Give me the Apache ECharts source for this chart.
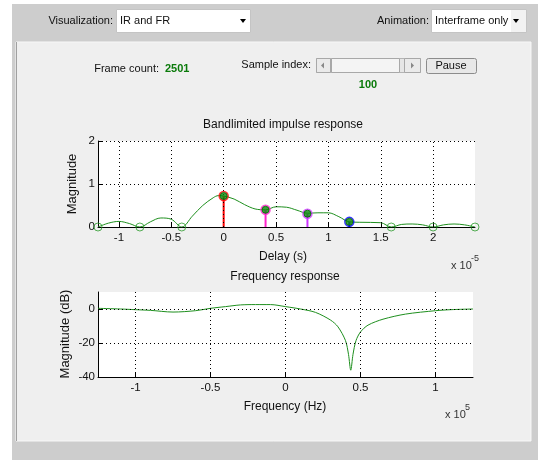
<!DOCTYPE html>
<html><head><meta charset="utf-8">
<script src="https://cdn.jsdelivr.net/npm/echarts@6/dist/echarts.min.js"></script>
<style>html,body{margin:0;padding:0;background:#fff;}#c{width:538px;height:461px;}</style>
</head><body><div id="c"></div>
<script>
// Impulse response curve (x in units of 1e-5 s)
const irX = [-1.2,-1.1,-1.0,-0.9,-0.8,-0.7,-0.6,-0.5,-0.4,-0.3,-0.2,-0.1,-0.05,0,0.1,0.2,0.3,0.4,0.5,0.6,0.7,0.8,0.9,1.0,1.1,1.2,1.3,1.5,1.6,1.7,1.8,1.9,2.0,2.1,2.2,2.3,2.4];
const irY = [0,0.09,0.13,0.08,0,0.12,0.21,0.18,0,0.25,0.5,0.68,0.73,0.72,0.65,0.52,0.42,0.40,0.47,0.46,0.39,0.32,0.33,0.33,0.24,0.12,0.11,0.10,0,0.06,0.07,0.05,0,0.05,0.07,0.05,0];
const stemX = [0, 0.4, 0.8, 1.2];
const stemY = [0.72, 0.40, 0.31, 0.12];
const zeroX = [-1.2, -0.8, -0.4, 1.6, 2.0, 2.4];
const irTicks = [-1, -0.5, 0, 0.5, 1, 1.5, 2];
const irYTicks = [0, 1, 2];
// Frequency response (x in units of 1e5 Hz, y in dB)
const frX = [-1.25,-1.1,-1.0,-0.9,-0.75,-0.6,-0.5,-0.4,-0.3,-0.2,-0.1,0,0.1,0.2,0.3,0.35,0.4,0.42,0.435,0.45,0.47,0.5,0.55,0.65,0.8,1.0,1.1,1.25];
const frY = [0.4,0,-0.4,-0.8,-1.8,-1.0,0.4,1.4,2.4,2.6,2.6,1.4,0,-2,-6.5,-10.5,-18.6,-26.7,-36,-26.7,-18.6,-13.5,-9.5,-6,-3,-1,-0.4,0];
const frTicks = [-1, -0.5, 0, 0.5, 1];
const frYTicks = [-40, -20, 0];

const stemColors = ['#ff0000', '#ff22cc', '#cc33ff', '#0000ff'];
const green = '#1e8f1e';
const FONT = 'Liberation Sans, Arial, sans-serif';
const grid1 = {left: 98, top: 141, width: 377, height: 86};
const grid2 = {left: 98, top: 292, width: 375, height: 85};

const dotted = {color: '#000', type: [1, 3], width: 1};
function gridLines(xt, yt){
  return {silent: true, symbol: 'none', label: {show: false}, lineStyle: dotted,
    emphasis: {disabled: true}, animation: false,
    data: xt.map(v => ({xAxis: v})).concat(yt.map(v => ({yAxis: v})))};
}

const chart = echarts.init(document.getElementById('c'));
const series = [];
series.push({type: 'line', xAxisIndex: 0, yAxisIndex: 0, data: irX.map((x, i) => [x, irY[i]]),
  smooth: 0.35, showSymbol: false, lineStyle: {color: green, width: 1}, z: 3, markLine: gridLines(irTicks, irYTicks.slice(1))});
stemX.forEach((x, i) => {
  series.push({type: 'line', xAxisIndex: 0, yAxisIndex: 0, data: [[x, 0], [x, stemY[i]]],
    showSymbol: false, lineStyle: {color: stemColors[i], width: 2}, z: 4});
  series.push({type: 'scatter', xAxisIndex: 0, yAxisIndex: 0, data: [[x, stemY[i]]],
    symbol: 'circle', symbolSize: 9, itemStyle: {color: 'rgba(0,0,0,0)', borderColor: stemColors[i], borderWidth: 1.5}, z: 5});
});
series.push({type: 'scatter', xAxisIndex: 0, yAxisIndex: 0, data: stemX.map((x, i) => [x, stemY[i]]),
  symbol: 'circle', symbolSize: 7, itemStyle: {color: '#0a8a0a', borderColor: '#006400', borderWidth: 1}, z: 6});
series.push({type: 'scatter', xAxisIndex: 0, yAxisIndex: 0, data: zeroX.map(x => [x, 0]),
  symbol: 'circle', symbolSize: 8, itemStyle: {color: 'rgba(0,0,0,0)', borderColor: '#2a9a2a', borderWidth: 1}, z: 6});
series.push({type: 'line', xAxisIndex: 1, yAxisIndex: 1, data: frX.map((x, i) => [x, frY[i]]),
  smooth: 0.3, showSymbol: false, lineStyle: {color: green, width: 1}, z: 3, markLine: gridLines(frTicks, frYTicks.slice(1))});

function xAx(idx, min, max, ticks){
  return {type: 'value', gridIndex: idx, min: min, max: max,
    axisLine: {show: true, onZero: false, lineStyle: {color: '#000', width: 1}},
    axisTick: {show: true, inside: true, length: 4, customValues: ticks, lineStyle: {color: '#000'}},
    axisLabel: {customValues: ticks, color: '#111', fontSize: 11.5, fontFamily: FONT, margin: 5},
    splitLine: {show: false}};
}
function yAx(idx, min, max, ticks){
  return {type: 'value', gridIndex: idx, min: min, max: max,
    axisLine: {show: true, onZero: false, lineStyle: {color: '#000', width: 1}},
    axisTick: {show: true, inside: true, length: 4, customValues: ticks, lineStyle: {color: '#000'}},
    axisLabel: {customValues: ticks, color: '#111', fontSize: 11.5, fontFamily: FONT, margin: 3},
    splitLine: {show: false}};
}

function txt(x, y, text, opts, rot){
  const t = {type: 'text', x: x, y: y, z: 50, silent: true,
    style: Object.assign({text: text, fill: '#111', font: '12px ' + FONT, textAlign: 'center', textVerticalAlign: 'middle'}, opts || {})};
  if (rot) t.rotation = rot;
  return t;
}

const graphic = [
  {type: 'rect', z: -20, silent: true, shape: {x: 12, y: 4, width: 526, height: 456}, style: {fill: '#cdcdcd'}},
  {type: 'rect', z: -19, silent: true, shape: {x: 16, y: 42, width: 515, height: 399}, style: {fill: '#efefef', stroke: '#f8f8f8', lineWidth: 1}},
  {type: 'line', z: -18, silent: true, shape: {x1: 16.5, y1: 42, x2: 16.5, y2: 441}, style: {stroke: '#a0a0a0', lineWidth: 1}},
  // Visualization dropdown
  txt(113, 21, 'Visualization:', {textAlign: 'right', font: '11px ' + FONT}),
  {type: 'rect', z: 40, silent: true, shape: {x: 116.5, y: 9.5, width: 134, height: 23}, style: {fill: '#fff', stroke: '#c4c4c4'}},
  txt(120, 21, 'IR and FR', {textAlign: 'left', font: '11px ' + FONT}),
  {type: 'polygon', z: 41, silent: true, shape: {points: [[240, 19], [246, 19], [243, 23]]}, style: {fill: '#000'}},
  // Animation dropdown
  txt(429, 21, 'Animation:', {textAlign: 'right', font: '11px ' + FONT}),
  {type: 'rect', z: 40, silent: true, shape: {x: 431.5, y: 9.5, width: 95, height: 23}, style: {fill: '#f2f2f2', stroke: '#c4c4c4'}},
  {type: 'rect', z: 40, silent: true, shape: {x: 432, y: 10, width: 79, height: 22}, style: {fill: '#fff'}},
  txt(435, 21, 'Interframe only', {textAlign: 'left', font: '11px ' + FONT}),
  {type: 'polygon', z: 41, silent: true, shape: {points: [[513, 19], [519, 19], [516, 23]]}, style: {fill: '#000'}},
  // Frame count
  txt(159, 69, 'Frame count:', {textAlign: 'right', font: '11px ' + FONT}),
  txt(165, 69, '2501', {textAlign: 'left', font: 'bold 11px ' + FONT, fill: '#0a7a0a'}),
  // Sample index slider
  txt(311, 65, 'Sample index:', {textAlign: 'right', font: '11px ' + FONT}),
  {type: 'rect', z: 40, silent: true, shape: {x: 316.5, y: 58.5, width: 104, height: 14}, style: {fill: '#e6e6e6', stroke: '#b4b4b4'}},
  {type: 'rect', z: 41, silent: true, shape: {x: 316.5, y: 58.5, width: 14, height: 14}, style: {fill: '#eaeaea', stroke: '#a8a8a8'}},
  {type: 'rect', z: 41, silent: true, shape: {x: 331.5, y: 58.5, width: 68, height: 14}, style: {fill: '#f4f4f4', stroke: '#a8a8a8'}},
  {type: 'rect', z: 41, silent: true, shape: {x: 404.5, y: 58.5, width: 16, height: 14}, style: {fill: '#eaeaea', stroke: '#a8a8a8'}},
  {type: 'polygon', z: 42, silent: true, shape: {points: [[321, 65.5], [324, 62.5], [324, 68.5]]}, style: {fill: '#888'}},
  {type: 'polygon', z: 42, silent: true, shape: {points: [[414, 65.5], [411, 62.5], [411, 68.5]]}, style: {fill: '#888'}},
  txt(368, 85, '100', {font: 'bold 11px ' + FONT, fill: '#0a7a0a'}),
  // Pause button
  {type: 'rect', z: 40, silent: true, shape: {x: 426.5, y: 58.5, width: 50, height: 15, r: 2}, style: {fill: '#e8e8e8', stroke: '#8c8c8c'}},
  txt(451, 66, 'Pause', {font: '11px ' + FONT}),
  // Titles and labels
  txt(283, 125, 'Bandlimited impulse response'),
  txt(283, 257, 'Delay (s)'),
  txt(451, 266, 'x 10', {textAlign: 'left', font: '11px ' + FONT, fill: '#333'}),
  txt(471, 259, '-5', {textAlign: 'left', font: '9px ' + FONT, fill: '#333'}),
  txt(72, 184, 'Magnitude', {font: '13px ' + FONT}, Math.PI / 2),
  txt(285, 277, 'Frequency response'),
  txt(285, 407, 'Frequency (Hz)'),
  txt(445, 415, 'x 10', {textAlign: 'left', font: '11px ' + FONT, fill: '#333'}),
  txt(465, 408, '5', {textAlign: 'left', font: '9px ' + FONT, fill: '#333'}),
  txt(65, 334, 'Magnitude (dB)', {font: '13px ' + FONT}, Math.PI / 2)
];

chart.setOption({
  animation: false,
  backgroundColor: '#ffffff',
  grid: [Object.assign({show: true, backgroundColor: '#fff', borderWidth: 0}, grid1),
         Object.assign({show: true, backgroundColor: '#fff', borderWidth: 0}, grid2)],
  xAxis: [xAx(0, -1.2, 2.4, irTicks), xAx(1, -1.25, 1.25, frTicks)],
  yAxis: [yAx(0, 0, 2, irYTicks), yAx(1, -40, 10, frYTicks)],
  graphic: graphic,
  series: series
});
</script></body></html>
